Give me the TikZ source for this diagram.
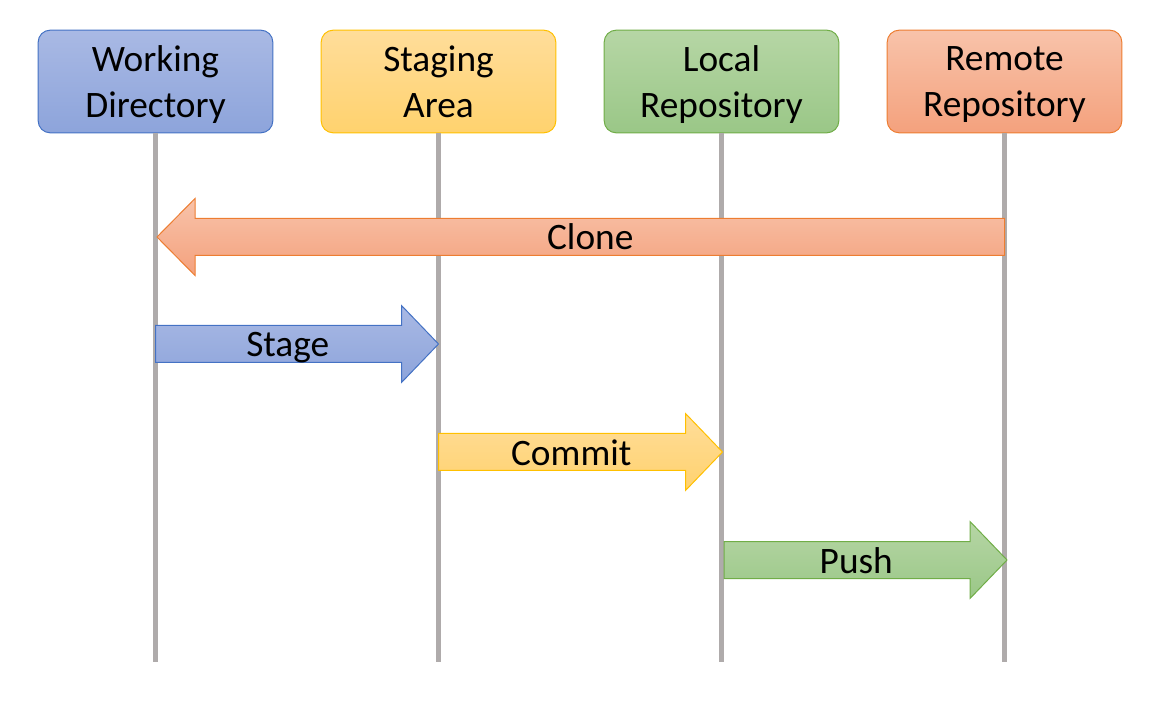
\documentclass[tikz,border=0pt]{standalone}
\usepackage{fontspec}
\setmainfont{Carlito}
\usetikzlibrary{calc}

\definecolor{blueTop}{HTML}{A9B9E4}
\definecolor{blueBot}{HTML}{8DA4DB}
\definecolor{blueLine}{HTML}{4472C4}
\definecolor{yellowTop}{HTML}{FFDD9A}
\definecolor{yellowBot}{HTML}{FFD26E}
\definecolor{yellowLine}{HTML}{FFC000}
\definecolor{greenTop}{HTML}{B6D6A5}
\definecolor{greenBot}{HTML}{9AC787}
\definecolor{greenLine}{HTML}{70AD47}
\definecolor{orangeTop}{HTML}{F8C3AA}
\definecolor{orangeBot}{HTML}{F4A17D}
\definecolor{orangeLine}{HTML}{ED7D31}
\definecolor{lineGray}{HTML}{AFABAB}

% fat arrow from #2 to #3, head length #4 (negative points left)
\newcommand{\fatarrow}[5][]{%
  \path[#1] ($(#2)+(0,-18.5)$) -- ($(#3)+({-1*(#4)},-18.5)$)
    -- ($(#3)+({-1*(#4)},-38.5)$) -- (#3)
    -- ($(#3)+({-1*(#4)},38.5)$) -- ($(#3)+({-1*(#4)},18.5)$)
    -- ($(#2)+(0,18.5)$) -- cycle;
  \node[arrowtext] (#5) at ($(#2)!0.5!(#3)+({-0.25*(#4)},13)$) {#5};
}

\begin{document}
\begin{tikzpicture}[x=0.75pt,y=-0.75pt,
    areabox/.style ={rectangle, rounded corners=9pt, line width=0.75pt,
      minimum width=176pt, minimum height=77pt, align=center, text depth=0pt,
      font=\fontsize{28}{34}\selectfont},
    arrowtext/.style ={anchor=base, inner sep=0pt, font=\fontsize{28}{34}\selectfont},
    lifeline/.style ={draw=lineGray, line width=3.75pt},
    bluefill/.style ={top color=blueTop, bottom color=blueBot, draw=blueLine, line width=0.75pt},
    yellowfill/.style ={top color=yellowTop, bottom color=yellowBot, draw=yellowLine, line width=0.75pt},
    greenfill/.style ={top color=greenTop, bottom color=greenBot, draw=greenLine, line width=0.75pt},
    orangefill/.style ={top color=orangeTop, bottom color=orangeBot, draw=orangeLine, line width=0.75pt}]
   \useasboundingbox (0,0) rectangle (1156,712);

   \node[areabox, bluefill] (WD)  at (155.5,81.5)  {Working\\Directory};
   \node[areabox, yellowfill] (SA)  at (438.5,81.5)  {Staging\\Area};
   \node[areabox, greenfill] (LR)  at (721.5,81.5)  {Local\\Repository};
   \node[areabox, orangefill] (RR)  at (1004.5,81.5)  {Remote\\Repository};

   \coordinate (WDend) at (WD.south |- 0,662);
   \coordinate (SAend) at (SA.south |- 0,662);
   \coordinate (LRend) at (LR.south |- 0,662);
   \coordinate (RRend) at (RR.south |- 0,662);

   \draw[lifeline] (WD.south) to (WDend);
   \draw[lifeline] (SA.south) to (SAend);
   \draw[lifeline] (LR.south) to (LRend);
   \draw[lifeline] (RR.south) to (RRend);

   % arrow ends on the lifelines
   \coordinate (cloneA) at (RR.south |- 0,237);
   \coordinate (cloneB) at ($(WD.south |- 0,237)+(1.5,0)$);
   \coordinate (stageA) at (WD.south |- 0,344);
   \coordinate (stageB) at (SA.south |- 0,344);
   \coordinate (commitA) at (SA.south |- 0,452);
   \coordinate (commitB) at ($(LR.south |- 0,452)+(1,0)$);
   \coordinate (pushA) at ($(LR.south |- 0,560)+(2.5,0)$);
   \coordinate (pushB) at ($(RR.south |- 0,560)+(2.5,0)$);

   \fatarrow[orangefill]{cloneA}{cloneB}{-38}{Clone}
   \fatarrow[bluefill]{stageA}{stageB}{37}{Stage}
   \fatarrow[yellowfill]{commitA}{commitB}{37}{Commit}
   \fatarrow[greenfill]{pushA}{pushB}{37}{Push}

 \end{tikzpicture}
\end{document}
